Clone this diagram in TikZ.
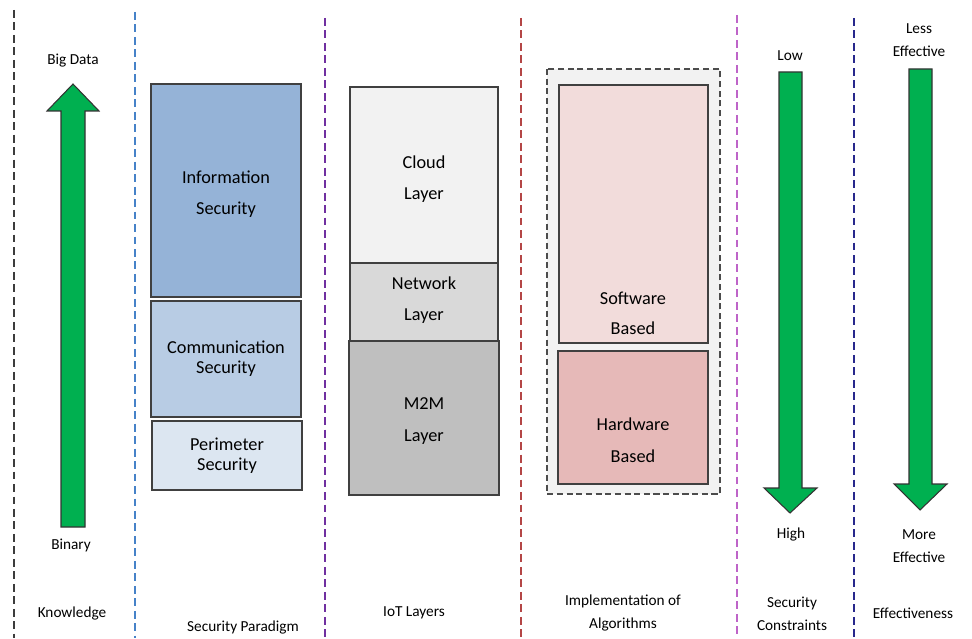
\documentclass[tikz,border=0pt]{standalone}
\usepackage{fontspec}
\setmainfont{Carlito}
\definecolor{arrowgreen}{RGB}{0,176,80}
\definecolor{infoblue}{RGB}{149,179,215}
\definecolor{commblue}{RGB}{184,204,228}
\definecolor{periblue}{RGB}{220,230,241}
\definecolor{cloudgray}{RGB}{242,242,242}
\definecolor{netgray}{RGB}{217,217,217}
\definecolor{mtwomgray}{RGB}{191,191,191}
\definecolor{softpink}{RGB}{242,220,219}
\definecolor{hardpink}{RGB}{230,185,184}
\definecolor{divblack}{RGB}{60,60,60}
\definecolor{divblue}{RGB}{70,130,200}
\definecolor{divpurple}{RGB}{112,48,160}
\definecolor{divred}{RGB}{180,70,70}
\definecolor{divmagenta}{RGB}{190,100,200}
\definecolor{divnavy}{RGB}{40,40,140}

\begin{document}
\begin{tikzpicture}[x=0.02cm,y=-0.02cm,
	divider/.style={dash pattern=on 4.5pt off 2.6pt, line width=0.7pt},
	layer/.style={draw=black!75, line width=0.7pt},
	boxtext/.style={align=center, font=\fontsize{10.4}{18}\selectfont},
	lbl/.style={align=center, font=\fontsize{8.7}{12.8}\selectfont},
	bigarrow/.style={fill=arrowgreen, draw=black!80, line width=0.6pt, line join=miter}]
		\useasboundingbox (0,0) rectangle (972,638);
		%Separatori
		\draw [divider, divblack] (14,10) -- (14,638);
		\draw [divider, divblue] (135,12) -- (135,638);
		\draw [divider, divpurple] (325,18) -- (325,638);
		\draw [divider, divred] (521,18) -- (521,638);
		\draw [divider, divmagenta] (737,15) -- (737,638);
		\draw [divider, divnavy] (854,18) -- (854,638);
		%Knowledge
		\draw [bigarrow] (61,527) -- (61,111) -- (47,111) -- (73,84) -- (99,111) -- (85,111) -- (85,527) -- cycle;
		\node [lbl] (bigdata) at (73,61) {Big Data};
		\node [lbl] (binary) at (71,545) {Binary};
		\node [lbl] (knowledge) at (72,613) {Knowledge};
		%Security Paradigm
		\draw [layer, fill=infoblue] (151,84) rectangle (301,297);
		\node [boxtext] (info) at (226,194) {Information\\Security};
		\draw [layer, fill=commblue] (151,301) rectangle (301,417);
		\node [boxtext, font=\fontsize{10.4}{11.5}\selectfont] (comm) at (226,359) {Communication\\Security};
		\draw [layer, fill=periblue] (152,421) rectangle (302,490);
		\node [boxtext, font=\fontsize{10.4}{11.5}\selectfont] (peri) at (227,456) {Perimeter\\Security};
		\node [lbl] (paradigm) at (243,627) {Security Paradigm};
		%IoT Layers
		\draw [layer, fill=cloudgray] (350,87) rectangle (498,263);
		\node [boxtext] (cloud) at (424,179) {Cloud\\Layer};
		\draw [layer, fill=netgray] (350,263) rectangle (498,341);
		\node [boxtext] (network) at (424,300) {Network\\Layer};
		\draw [layer, fill=mtwomgray] (349,341) rectangle (499,495);
		\node [boxtext] (mtwom) at (424,421) {M2M\\Layer};
		\node [lbl] (iot) at (414,613) {IoT Layers};
		%Algorithms
		\draw [draw=black!70, fill=cloudgray, line width=0.8pt, dash pattern=on 3.5pt off 2pt] (547,69) rectangle (720,494);
		\draw [layer, fill=softpink] (559,85) rectangle (708,343);
		\node [boxtext, font=\fontsize{10.4}{17}\selectfont] (software) at (633,313) {Software\\Based};
		\draw [layer, fill=hardpink] (558,351) rectangle (708,484);
		\node [boxtext] (hardware) at (633,440) {Hardware\\Based};
		\node [lbl] (impl) at (623,613) {Implementation of\\Algorithms};
		%Security Constraints
		\draw [bigarrow] (779,72) -- (802,72) -- (802,488) -- (817,488) -- (790,513) -- (764,488) -- (779,488) -- cycle;
		\node [lbl] (low) at (790,56) {Low};
		\node [lbl] (high) at (791,535) {High};
		\node [lbl] (constraints) at (792,614) {Security\\Constraints};
		%Effectiveness
		\draw [bigarrow] (909,69) -- (932,69) -- (932,484) -- (947,484) -- (920,510) -- (894,484) -- (909,484) -- cycle;
		\node [lbl] (less) at (919,40) {Less\\Effective};
		\node [lbl] (more) at (919,546) {More\\Effective};
		\node [lbl] (effectiveness) at (913,613) {Effectiveness};
	\end{tikzpicture}
\end{document}
